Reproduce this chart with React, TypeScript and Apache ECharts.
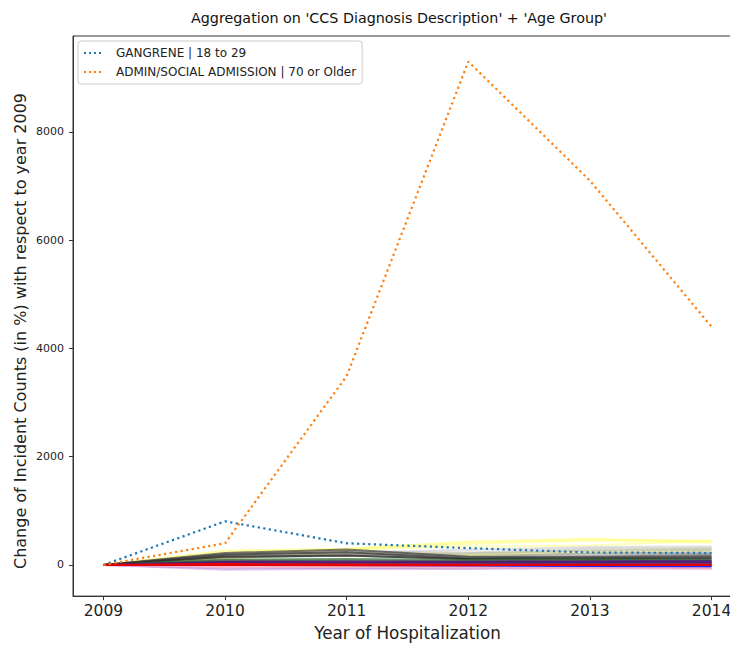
import React, { useEffect, useRef } from "react";
import * as echarts from "echarts";

const years = [2009, 2010, 2011, 2012, 2013, 2014];
const yTicks = [0, 2000, 4000, 6000, 8000];

const gangreneName = "GANGRENE | 18 to 29";
const gangreneValues = [0, 805, 400, 310, 230, 220];
const adminName = "ADMIN/SOCIAL ADMISSION | 70 or Older";
const adminValues = [0, 400, 3490, 9300, 7100, 4400];

const yAxisTitle = "Change of Incident Counts (in %) with respect to year 2009";

// background groups (name, colour, opacity, values per year)
const bgNames = [
  "yellow-1", "yellow-2", "yellow-3", "yellow-4", "yellow-5",
  "lightgrey-1", "lightgrey-2", "lightgrey-3",
  "grey-1", "grey-2", "grey-3",
  "black-1", "black-2", "black-3",
  "green-1", "green-2",
  "darkred-1",
  "purple-1", "purple-2", "purple-3",
  "lavender-1", "lavender-2",
  "pink-1", "pink-2",
  "blue-1",
  "red-1", "red-2",
];
const bgColors = [
  "#ffff55", "#ffff66", "#ffff77", "#eeee44", "#dddd55",
  "#cccccc", "#c0c0c0", "#b0b0b0",
  "#909090", "#808080", "#6e6e6e",
  "#444444", "#333333", "#222222",
  "#2e6b2e", "#3b5d3b",
  "#7a1f1f",
  "#4b1a7a", "#3d1466", "#5a2a8a",
  "#c9a0e6", "#b58ad6",
  "#ffb6c8", "#f4a6c0",
  "#1010ff",
  "#ff0000", "#e00000",
];
const bgOpacity = [
  0.55, 0.5, 0.5, 0.5, 0.5,
  0.6, 0.6, 0.6,
  0.6, 0.6, 0.6,
  0.7, 0.7, 0.7,
  0.7, 0.7,
  0.7,
  0.8, 0.8, 0.8,
  0.6, 0.6,
  0.6, 0.6,
  0.9,
  1, 1,
];
const bgValues = [
  [0, 260, 300, 430, 480, 440],
  [0, 230, 280, 390, 450, 410],
  [0, 190, 290, 340, 360, 450],
  [0, 150, 250, 200, 260, 310],
  [0, 120, 210, 180, 220, 260],
  [0, 200, 230, 280, 330, 340],
  [0, 180, 250, 230, 300, 310],
  [0, 160, 190, 210, 260, 280],
  [0, 200, 260, 160, 210, 230],
  [0, 170, 210, 140, 170, 200],
  [0, 140, 170, 120, 150, 180],
  [0, 220, 285, 150, 140, 160],
  [0, 190, 235, 120, 125, 135],
  [0, 150, 175, 105, 105, 120],
  [0, 100, 110, 90, 100, 95],
  [0, 80, 75, 70, 65, 70],
  [0, 50, 45, 35, 40, 35],
  [0, 60, 65, 60, 70, 75],
  [0, 40, 35, 45, 45, 50],
  [0, 25, 20, 25, 30, 30],
  [0, -90, -70, -75, -55, -65],
  [0, -60, -50, -60, -45, -50],
  [0, -40, -35, -50, -60, -75],
  [0, -25, -20, -30, -35, -45],
  [0, 5, 0, -10, -20, -25],
  [0, 15, 10, 5, 5, 5],
  [0, 0, -5, -5, 0, 0],
];

const toData = (vals: number[]) => vals.map((v, i) => [years[i], v]);

const dotsIcon = "path://M0 0h2v2H0zM5 0h2v2H5zM10 0h2v2h-2zM15 0h2v2h-2z";

export default function App() {
  const ref = useRef<HTMLDivElement>(null);
  useEffect(() => {
    if (!ref.current) return;
    const chart = echarts.init(ref.current, null, { renderer: "svg" });
    const font = "DejaVu Sans";
    const bgSeries = bgNames.map((n, i) => ({
      name: n,
      type: "line",
      data: toData(bgValues[i]),
      symbol: "none",
      silent: true,
      lineStyle: { color: bgColors[i], width: 2, opacity: bgOpacity[i] },
      itemStyle: { color: bgColors[i] },
      z: 2,
    }));
    const dotted = (name: string, vals: number[], color: string) => ({
      name,
      type: "line",
      data: toData(vals),
      symbol: "none",
      lineStyle: { color, width: 2.2, type: [2.2, 3.4], cap: "butt" },
      itemStyle: { color },
      z: 3,
    });
    chart.setOption({
      animation: false,
      backgroundColor: "#ffffff",
      textStyle: { fontFamily: font },
      title: {
        text: "Aggregation on 'CCS Diagnosis Description' + 'Age Group'",
        left: 186,
        top: 6,
        textStyle: { fontFamily: font, fontSize: 14.3, fontWeight: "normal", color: "#111" },
      },
      graphic: [
        {
          type: "text",
          x: 20,
          y: 331,
          rotation: Math.PI / 2,
          style: {
            text: yAxisTitle,
            fill: "#222",
            font: "16px 'DejaVu Sans'",
            textAlign: "center",
            textVerticalAlign: "middle",
          },
        },
      ],
      legend: {
        data: [
          { name: gangreneName, icon: dotsIcon },
          { name: adminName, icon: dotsIcon },
        ],
        orient: "vertical",
        left: 78,
        top: 41,
        padding: [5, 6, 5, 6],
        itemGap: 5,
        itemWidth: 17,
        itemHeight: 2,
        borderColor: "#cccccc",
        borderWidth: 1,
        borderRadius: 3,
        backgroundColor: "rgba(255,255,255,0.8)",
        textStyle: { fontFamily: font, fontSize: 12, color: "#222", padding: [0, 0, 0, 10], lineHeight: 14 },
        selectedMode: false,
      },
      grid: {
        left: 73,
        right: 18,
        top: 36,
        bottom: 48,
        show: true,
        borderColor: "#333",
        borderWidth: 1,
        backgroundColor: "transparent",
        containLabel: false,
      },
      xAxis: {
        type: "value",
        min: 2008.75,
        max: 2014.25,
        name: "Year of Hospitalization",
        nameLocation: "middle",
        nameGap: 27,
        nameTextStyle: { fontFamily: font, fontSize: 16.8, color: "#222" },
        splitLine: { show: false },
        axisLine: { show: true, onZero: false, lineStyle: { color: "#333", width: 1 } },
        axisTick: { show: true, customValues: years, length: 4, lineStyle: { color: "#333" } },
        axisLabel: {
          customValues: years,
          margin: 7,
          fontFamily: font,
          fontSize: 15.5,
          color: "#222",
          formatter: (v: number) => String(v),
        },
      },
      yAxis: {
        type: "value",
        min: -576,
        max: 9773,
        splitLine: { show: false },
        axisLine: { show: true, onZero: false, lineStyle: { color: "#333", width: 1 } },
        axisTick: { show: true, customValues: yTicks, length: 4, lineStyle: { color: "#333" } },
        axisLabel: {
          customValues: yTicks,
          margin: 9,
          fontFamily: font,
          fontSize: 11,
          color: "#222",
          formatter: (v: number) => String(v),
        },
      },
      series: [
        ...bgSeries,
        dotted(gangreneName, gangreneValues, "#1f77b4"),
        dotted(adminName, adminValues, "#ff7f0e"),
      ],
    });
    return () => chart.dispose();
  }, []);
  return (
    <div
      style={{ position: "absolute", left: 0, top: 0, width: 730, height: 646, overflow: "hidden" }}
    >
      <div ref={ref} style={{ width: 760, height: 646 }} />
    </div>
  );
}
